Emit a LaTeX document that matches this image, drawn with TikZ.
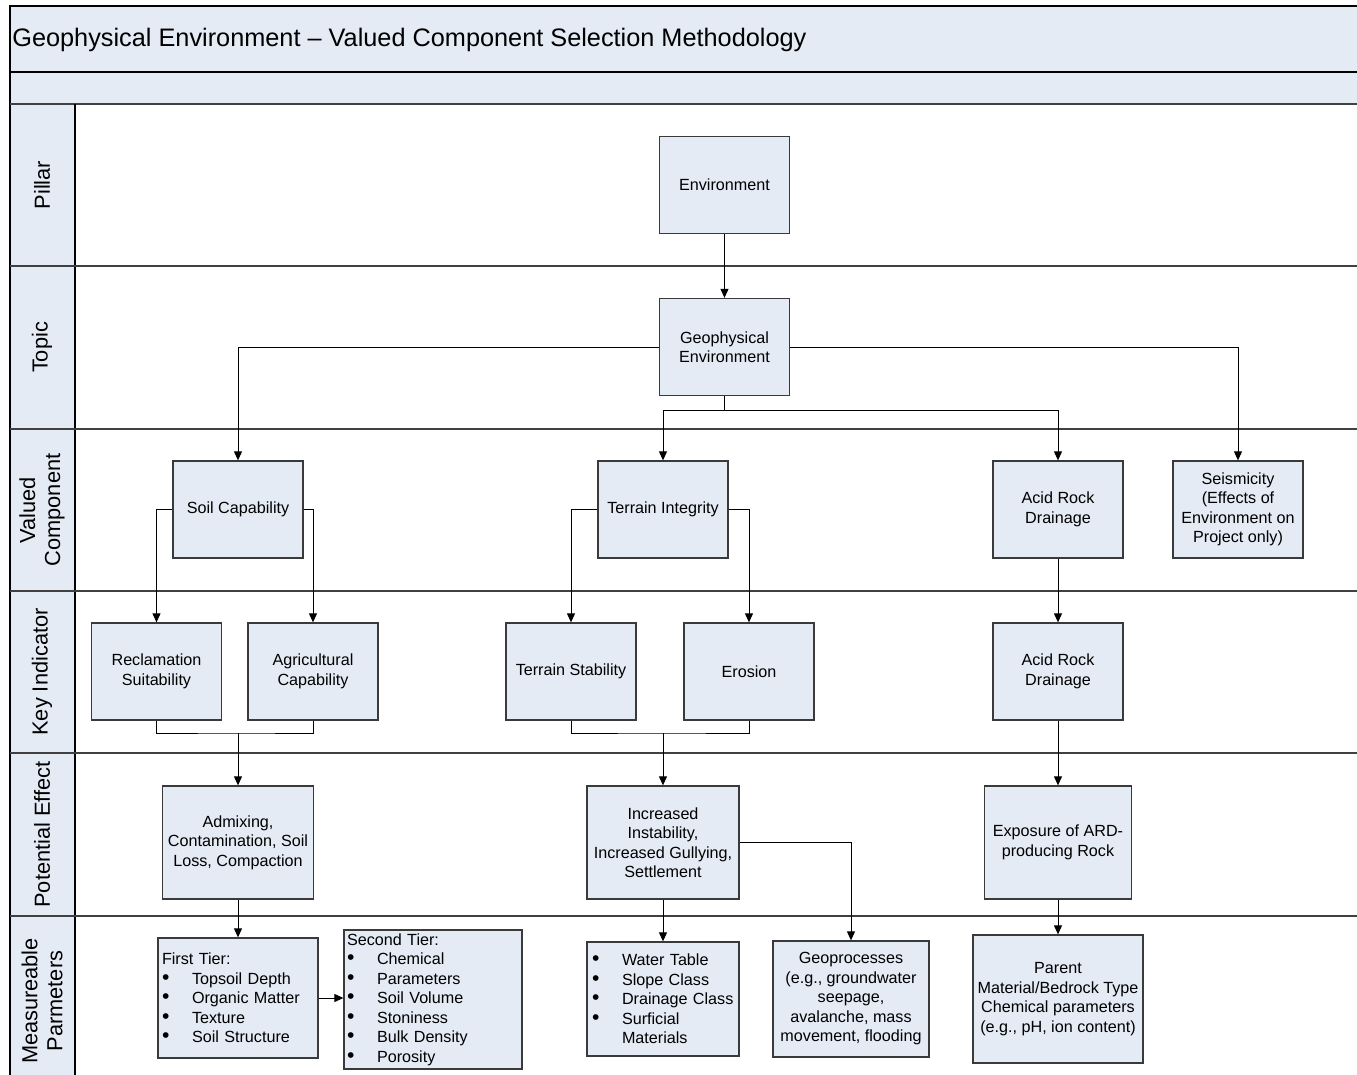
\documentclass[tikz,border=0pt]{standalone}
\usepackage{fontspec}
\setmainfont{Liberation Sans}
\usetikzlibrary{arrows.meta}
\definecolor{lanefill}{HTML}{E4EBF5}
\definecolor{laneline}{HTML}{404040}
\definecolor{boxline}{HTML}{3A3A3A}
\newcommand\bul{\makebox[0.6cm][l]{\fontsize{12}{11.1}\selectfont\textbullet}}

\begin{document}
\begin{tikzpicture}[x=0.02cm,y=-0.02cm,
    box/.style={draw=boxline,line width=0.75pt,fill=lanefill,align=center,inner sep=2pt,
      font=\fontsize{9.2}{11.1}\selectfont,minimum width=2.6cm,minimum height=1.94cm},
    listbox/.style={box,align=left,minimum width=0pt},
    conn/.style={line width=0.55pt,-{Triangle[length=0.18cm,width=0.16cm]}},
    lane/.style={rotate=90,align=center,font=\fontsize{12.4}{14.2}\selectfont}]
  \useasboundingbox (0,0) rectangle (1357,1075);
  % title band and lane column
  \fill[lanefill] (10,6) rectangle (1357,104);
  \fill[lanefill] (10,104) rectangle (75,1075);
  \draw[line width=0.9pt] (1357,6) -- (10,6) -- (10,1075);
  \draw[line width=0.9pt] (10,72) -- (1357,72);
  \draw[laneline,line width=1.6pt] (10,104) -- (1357,104);
  \draw[line width=0.7pt] (75,104) -- (75,1075);
  \foreach \y in {266,429,591,753,916}
    \draw[laneline,line width=1.1pt] (10,\y) -- (1357,\y);
  \node[anchor=west,inner sep=0pt,font=\fontsize{14.4}{17}\selectfont] (title) at (12,40)
    {Geophysical Environment – Valued Component Selection Methodology};

  \node[lane] (pillar) at (42,185) {Pillar};
  \node[lane] (topic) at (42,347.5) {Topic};
  \node[lane] (vclane) at (42,510) {Valued\\Component};
  \node[lane] (kilane) at (42,672) {Key Indicator};
  \node[lane] (pelane) at (42,834.5) {Potential Effect};
  \node[lane] (mplane) at (42,1001) {Measureable\\Parmeters};

  \node[box] (env) at (724.5,185) {Environment};
  \node[box] (geo) at (724.5,347) {Geophysical\\Environment};

  \node[box] (soil) at (238,509.5) {Soil Capability};
  \node[box] (terr) at (663,509.5) {Terrain Integrity};
  \node[box] (ardvc) at (1058,509.5) {Acid Rock\\Drainage};
  \node[box] (seis) at (1238,509.5) {Seismicity\\(Effects of\\Environment on\\Project only)};

  \node[box] (recl) at (156.5,671.5) {Reclamation\\Suitability};
  \node[box] (agri) at (313,671.5) {Agricultural\\Capability};
  \node[box] (tstab) at (571,671.5) {Terrain Stability};
  \node[box] (eros) at (749,671.5) {Erosion};
  \node[box] (ardki) at (1058,671.5) {Acid Rock\\Drainage};

  \node[box,minimum width=3.02cm,minimum height=2.26cm] (admix) at (238,842.5)
    {Admixing,\\Contamination, Soil\\Loss, Compaction};
  \node[box,minimum width=3.04cm,minimum height=2.26cm] (incr) at (663,842.5)
    {Increased\\Instability,\\Increased Gullying,\\Settlement};
  \node[box,minimum width=2.94cm,minimum height=2.26cm] (expo) at (1058,842.5)
    {Exposure of ARD-\\producing Rock};

  \node[listbox,text width=3.04cm,inner xsep=0.08cm,minimum height=2.4cm] (tier1) at (238,998)
    {First Tier:\\\bul Topsoil Depth\\\bul Organic Matter\\\bul Texture\\\bul Soil Structure};
  \node[listbox,text width=3.44cm,inner xsep=0.06cm,minimum height=2.7cm] (tier2) at (433,999.5)
    {Second Tier:\\\bul Chemical\\\bul Parameters\\\bul Soil Volume\\\bul Stoniness\\\bul Bulk Density\\\bul Porosity};
  \node[listbox,text width=2.84cm,inner xsep=0.1cm,minimum height=2.28cm] (water) at (663,999)
    {\bul Water Table\\\bul Slope Class\\\bul Drainage Class\\\bul Surficial\\\hspace*{0.6cm}Materials};
  \node[box,minimum width=3.12cm,minimum height=2.32cm] (geopr) at (851,999)
    {Geoprocesses\\(e.g., groundwater\\seepage,\\avalanche, mass\\movement, flooding};
  \node[box,minimum width=3.4cm,minimum height=2.56cm] (parent) at (1058,999)
    {Parent\\Material/Bedrock Type\\Chemical parameters\\(e.g., pH, ion content)};

  \draw[conn] (env) -- (geo);
  \draw[conn] (geo.west) -| (soil.north);
  \draw[conn] (geo.east) -| (seis.north);
  \draw (geo.south) -- ++(0,14) coordinate (gsplit);
  \draw[conn] (gsplit) -| (terr.north);
  \draw[conn] (gsplit) -| (ardvc.north);

  \draw[conn] (soil.west) -| (recl.north);
  \draw[conn] (soil.east) -| (agri.north);
  \draw[conn] (terr.west) -| (tstab.north);
  \draw[conn] (terr.east) -| (eros.north);
  \draw[conn] (ardvc) -- (ardki);

  \coordinate (smerge) at (admix.north |- 0,733);
  \draw (recl.south) |- (smerge) -| (agri.south);
  \draw[conn] (smerge) -- (admix.north);
  \coordinate (tmerge) at (incr.north |- 0,733);
  \draw (tstab.south) |- (tmerge) -| (eros.south);
  \draw[conn] (tmerge) -- (incr.north);
  \draw[conn] (ardki) -- (expo);

  \draw[conn] (admix) -- (tier1);
  \draw[conn] (tier1.east) -- (tier1.east -| tier2.west);
  \draw[conn] (incr) -- (water);
  \draw[conn] (incr.east) -| (geopr.north);
  \draw[conn] (expo) -- (parent);
\end{tikzpicture}
\end{document}
